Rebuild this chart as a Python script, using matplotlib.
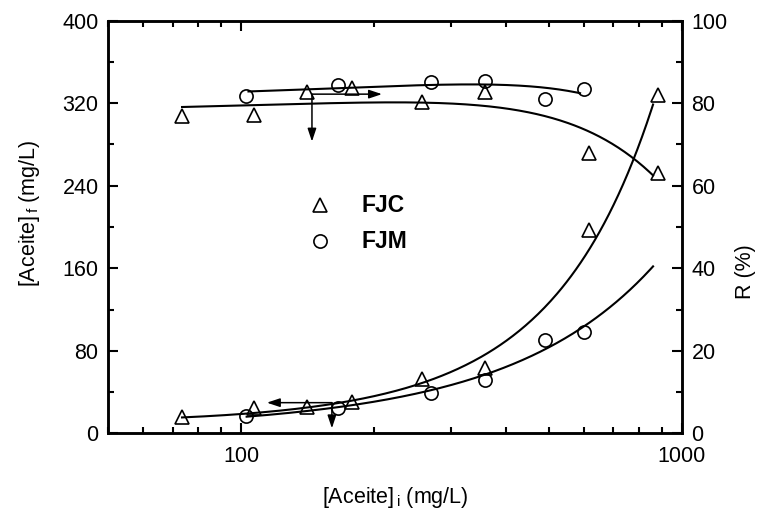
import numpy as np
import matplotlib
matplotlib.use("Agg")
import matplotlib.pyplot as plt
from matplotlib.ticker import FixedLocator, NullFormatter, LogLocator, FixedFormatter

plt.rcParams['font.family'] = ['Liberation Sans', 'DejaVu Sans']
plt.rcParams['mathtext.fontset'] = 'custom'
plt.rcParams['mathtext.rm'] = 'Liberation Sans'
plt.rcParams['mathtext.it'] = 'Liberation Sans:italic'
plt.rcParams['mathtext.bf'] = 'Liberation Sans:bold'

# ---- data ----
fjc_x = [73.6, 106.8, 141.0, 179.0, 257.0, 357.0, 615.0, 882.0]
fjc_f = [16.1, 24.2, 25.2, 30.6, 52.3, 63.0, 197.0, 328.0]      # [Aceite]_f, mg/L
fjc_r = [76.8, 77.2, 82.6, 83.7, 80.2, 82.6, 68.0, 63.0]        # R, %

fjm_x = [102.8, 166.0, 269.5, 358.0, 490.0, 600.0]
fjm_f = [17.1, 24.2, 38.8, 51.7, 90.4, 98.2]
fjm_r = [81.8, 84.5, 85.1, 85.5, 81.1, 83.5]

# fitted curves
fit_fjc_r_x = [73.5, 150, 242, 300, 370, 469, 598, 774, 861]
fit_fjc_r_y = [79.2, 79.8, 80.0, 80.0, 79.5, 77.1, 73.9, 66.6, 62.6]
fit_fjm_r_x = [104, 158, 242, 268, 361, 512, 588]
fit_fjm_r_y = [82.8, 83.6, 84.4, 84.4, 84.4, 83.6, 82.4]
fit_fjc_f_x = [73.5, 107, 141, 180, 257, 337, 415, 512, 636, 774, 861]
fit_fjc_f_y = [15, 21, 25, 30, 48.5, 71, 97, 129, 190, 265, 315]
fit_fjm_f_x = [103, 166, 270, 358, 437, 490, 598, 676, 861]
fit_fjm_f_y = [16.5, 24, 43, 56.5, 71, 84, 103, 119.5, 160]

# axis-indicator arrows: (x_start, y_start, x_end, y_end)
arrow_r_h = (144.9, 82.2, 208.9, 82.2)      # on R axis, pointing right
arrow_r_v = (144.9, 82.2, 144.9, 70.7)
arrow_f_h = (160.8, 29.7, 114.5, 29.7)      # on left axis, pointing left
arrow_f_v = (160.8, 29.7, 160.8, 4.8)

left_ticks = [0, 80, 160, 240, 320, 400]
right_ticks = [0, 20, 40, 60, 80, 100]
x_ticks = [100, 1000]
x_ticklabels = ['100', '1000']

# ---- figure ----
W, H = 757, 518
fig = plt.figure(figsize=(W / 100, H / 100), dpi=100)
L, R, T, B = 108.3, 681.7, 20.7, 433.3
ax = fig.add_axes([L / W, 1 - B / H, (R - L) / W, (B - T) / H])
ax2 = ax.twinx()

ax.set_xscale('log')
ax.set_xlim(50, 1000)
ax.set_ylim(0, 400)
ax2.set_ylim(0, 100)


def smooth_lin(xk, yk, deg):
    c = np.polyfit(xk, yk, deg)
    xs = np.logspace(np.log10(xk[0]), np.log10(xk[-1]), 300)
    return xs, np.polyval(c, xs)


def smooth_loglog(xk, yk, deg):
    lx = np.log10(xk)
    c = np.polyfit(lx, np.log10(yk), deg)
    xs = np.logspace(lx[0], lx[-1], 300)
    return xs, 10 ** np.polyval(c, np.log10(xs))

lw = 1.5
curves = [
    (smooth_lin(fit_fjc_r_x, fit_fjc_r_y, 3), ax2),
    (smooth_lin(fit_fjm_r_x, fit_fjm_r_y, 2), ax2),
    (smooth_loglog(fit_fjc_f_x, fit_fjc_f_y, 3), ax),
    (smooth_loglog(fit_fjm_f_x, fit_fjm_f_y, 2), ax),
]
for (xs, ys), a in curves:
    a.plot(xs, ys, color='k', lw=lw, zorder=2)

mk = dict(mfc='none', mec='k', mew=1.2, ls='none', zorder=3)
ax.plot(fjc_x, fjc_f, marker='^', ms=10, **mk)
ax.plot(fjm_x, fjm_f, marker='o', ms=9.5, **mk)
ax2.plot(fjc_x, fjc_r, marker='^', ms=10, **mk)
ax2.plot(fjm_x, fjm_r, marker='o', ms=9.5, **mk)

ap = dict(arrowstyle='-|>,head_length=0.6,head_width=0.2', color='k', lw=1.1,
          mutation_scale=13, shrinkA=0, shrinkB=0)
for a, arr in [(ax2, arrow_r_h), (ax2, arrow_r_v), (ax, arrow_f_h), (ax, arrow_f_v)]:
    a.annotate('', xy=(arr[2], arr[3]), xytext=(arr[0], arr[1]), arrowprops=ap)

# legend (manual)
ax.plot([0.369], [0.553], marker='^', ms=10, transform=ax.transAxes, clip_on=False, **mk)
ax.plot([0.369], [0.466], marker='o', ms=9.5, transform=ax.transAxes, clip_on=False, **mk)
ax.text(0.442, 0.553, 'FJC', transform=ax.transAxes, fontsize=16.5, fontweight='bold', va='center', ha='left')
ax.text(0.442, 0.466, 'FJM', transform=ax.transAxes, fontsize=16.5, fontweight='bold', va='center', ha='left')

# ticks
fs = 15.5
ax.yaxis.set_major_locator(FixedLocator(left_ticks))
ax.yaxis.set_minor_locator(FixedLocator([40, 120, 200, 280, 360]))
ax2.yaxis.set_major_locator(FixedLocator(right_ticks))
ax2.yaxis.set_minor_locator(FixedLocator([10, 30, 50, 70, 90]))
ax.xaxis.set_major_locator(FixedLocator(x_ticks))
ax.xaxis.set_major_formatter(FixedFormatter(x_ticklabels))
ax.xaxis.set_minor_locator(LogLocator(base=10, subs=np.arange(2, 10)))
ax.xaxis.set_minor_formatter(NullFormatter())

ax.tick_params(axis='x', which='both', direction='in', top=True, bottom=True, labelsize=fs, pad=9, width=1.5)
ax.tick_params(axis='x', which='major', length=7)
ax.tick_params(axis='x', which='minor', length=4)
ax.tick_params(axis='y', which='both', direction='in', left=True, right=False, labelsize=fs, pad=7, width=1.5)
ax.tick_params(axis='y', which='major', length=7)
ax.tick_params(axis='y', which='minor', length=4)
ax2.tick_params(axis='y', which='both', direction='in', right=True, left=False, labelsize=fs, pad=7, width=1.5)
ax2.tick_params(axis='y', which='major', length=7)
ax2.tick_params(axis='y', which='minor', length=4)

for a in (ax, ax2):
    for s in a.spines.values():
        s.set_linewidth(1.8)

fig.text(395 / W, 1 - 497 / H, r'[Aceite]$_{\,\mathrm{i}}$ (mg/L)', fontsize=fs, ha='center', va='center')
fig.text(30 / W, 1 - 213 / H, r'[Aceite]$_{\,\mathrm{f}}$ (mg/L)', fontsize=fs, ha='center', va='center', rotation=90)
fig.text(746 / W, 1 - 272 / H, 'R (%)', fontsize=fs, ha='center', va='center', rotation=90)

fig.savefig('out.png', dpi=100)
